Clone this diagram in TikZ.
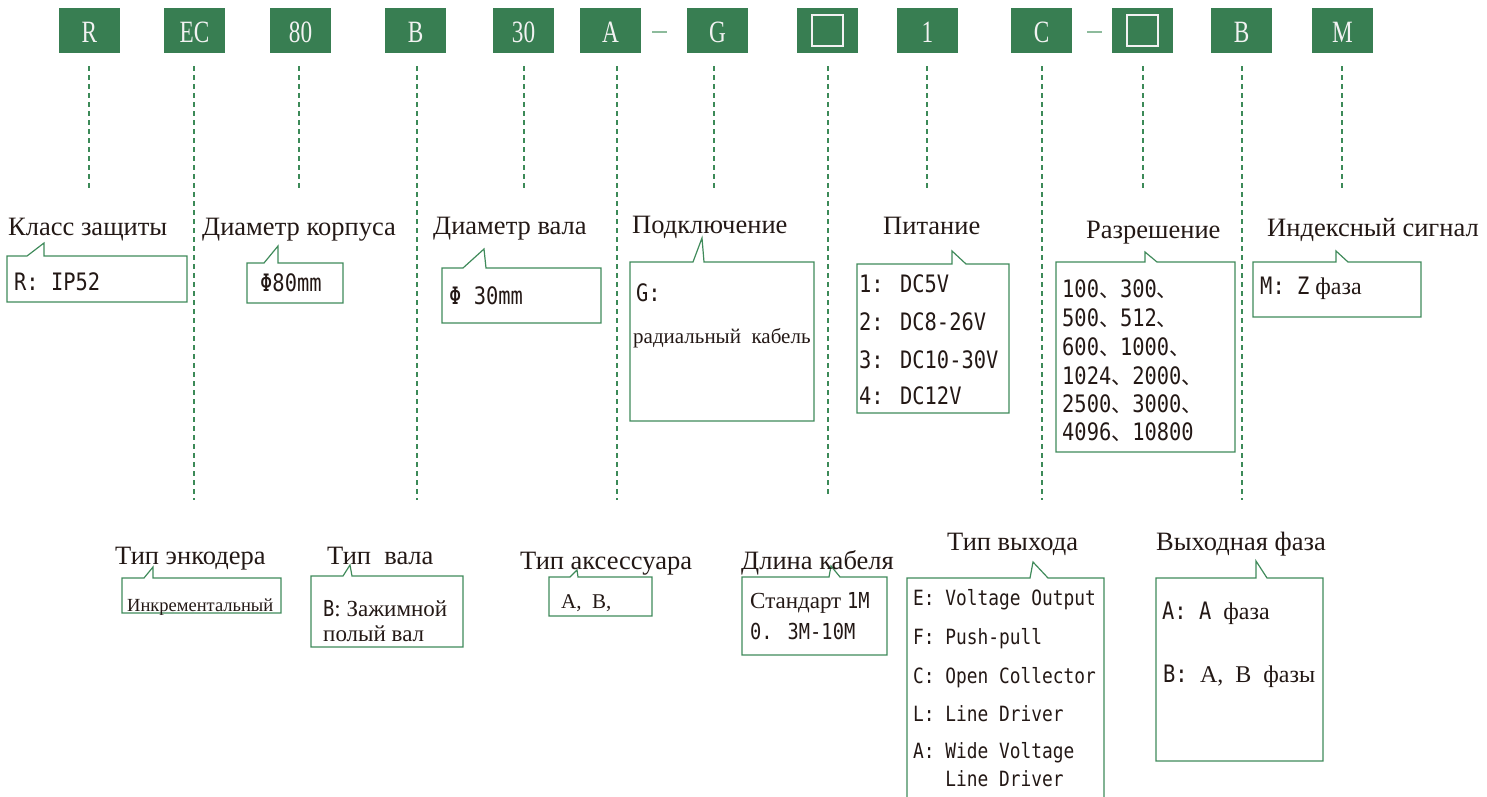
\documentclass[tikz,border=0pt]{standalone}
\usepackage{fontspec}
\setmainfont{Liberation Serif}
\newfontfamily\monof[FakeStretch=0.85]{DejaVu Sans Mono}
\newfontfamily\cjkf{Noto Sans CJK SC}
\newfontfamily\boxfont[FakeStretch=0.75]{Liberation Serif}
\usetikzlibrary{calc}
\definecolor{boxg}{HTML}{387E52}
\definecolor{lineg}{HTML}{3C8A58}
\definecolor{clg}{HTML}{3F8A5A}
\definecolor{sepg}{HTML}{8DBB9C}
\definecolor{txt}{HTML}{231815}
\definecolor{boxtxt}{HTML}{F2F2F2}
\newcommand{\fsz}[1]{\fontsize{#1}{#1}\selectfont}
\newcommand{\ideocomma}{{\cjkf\fsz{21}、}}
\newcommand{\callout}[8]{\draw[cl] (#1,#2) -- (#5,#2) -- (#6,#7) -- (#8,#2) -- (#3,#2) -- (#3,#4) -- (#1,#4) -- cycle;}
\tikzset{
  codebox/.style={fill=boxg, minimum width=61pt, minimum height=45pt, inner sep=0pt,
    text=boxtxt, font=\boxfont\fsz{31}, text height=24.5pt, text depth=0pt},
  dl/.style={draw=lineg, line width=1.1pt, dash pattern=on 5pt off 4pt},
  cl/.style={draw=clg, line width=1.2pt},
  sepdash/.style={draw=sepg, line width=2pt},
  sqw/.style={draw=boxtxt, line width=2pt},
  title/.style={anchor=west, inner sep=0pt, text height=15.9pt, text depth=0pt, font=\fsz{26.5}, text=txt},
  item/.style={anchor=west, inner sep=0pt, text height=14.4pt, text depth=0pt, font=\monof\fsz{24}, text=txt},
  itemsm/.style={anchor=west, inner sep=0pt, text height=12.6pt, text depth=0pt, font=\monof\fsz{21}, text=txt},
  ser/.style={anchor=west, inner sep=0pt, text height=12.6pt, text depth=0pt, font=\fsz{21}, text=txt},
}
\begin{document}
\begin{tikzpicture}[x=1pt,y=-1pt]
\useasboundingbox (0,0) rectangle (1487,796);
% code boxes
\node[codebox] (R) at (89.5,30.5) {R};
\node[codebox] (EC) at (194.5,30.5) {EC};
\node[codebox] (N80) at (300.5,30.5) {80};
\node[codebox] (B1) at (415.5,30.5) {B};
\node[codebox] (N30) at (523.5,30.5) {30};
\node[codebox] (A) at (610.5,30.5) {A};
\node[codebox] (G) at (717.5,30.5) {G};
\node[codebox] (Q1) at (827.5,30.5) {};
\node[codebox] (N1) at (927.5,30.5) {1};
\node[codebox] (C) at (1041.5,30.5) {C};
\node[codebox] (Q2) at (1142.5,30.5) {};
\node[codebox] (B2) at (1241.5,30.5) {B};
\node[codebox] (M) at (1342.5,30.5) {M};
\draw[sqw] ([shift={(-15.5,-16)}]Q1.center) rectangle ([shift={(15.5,15.5)}]Q1.center);
\draw[sqw] ([shift={(-15.5,-16)}]Q2.center) rectangle ([shift={(15.5,15.5)}]Q2.center);
\draw[sepdash] ($(A.east)+(11,1.5)$) -- ++(15,0);
\draw[sepdash] ($(C.east)+(15,1.5)$) -- ++(15,0);
% dashed guide lines
\foreach \n/\x/\e in {R/89/190, EC/194/500, N80/299/190, B1/417/500, N30/524/190, A/617/500, G/714/190, Q1/828/495, N1/927/190, C/1042/500, Q2/1143/190, B2/1242/500, M/1342/190}{
  \coordinate (s\n) at (\x,66);
  \coordinate (e\n) at (\x,\e);
  \draw[dl] (s\n) -- (e\n);
}
% callouts upper row
\callout{7}{256}{187}{302}{27}{44}{243}{44}
\callout{247}{263}{343}{303}{264}{278}{246}{278}
\callout{442}{268}{601}{323}{463}{484}{249}{486}
\callout{630}{262}{814}{421}{693}{702}{238}{704}
\callout{857}{264}{1009}{413}{952}{952}{251}{966}
\callout{1056}{262}{1235}{452}{1145}{1145}{252}{1157}
\callout{1253}{262}{1421}{317}{1336}{1336}{251}{1348}
% callouts lower row
\callout{122}{578}{281}{613}{144}{153}{567}{153}
\callout{311}{576}{463}{647}{343}{350}{565}{352}
\callout{549}{577}{652}{616}{570}{577}{570}{578}
\callout{742}{577}{887}{655}{829}{831}{566}{840}
\draw[cl] (907,797) -- (907,578) -- (1030,578) -- (1033,562) -- (1048,578) -- (1104,578) -- (1104,797);
\callout{1156}{578}{1323}{761}{1256}{1256}{561}{1267}
% titles
\node[title] (t1) at (8,228) {Класс защиты};
\node[title] (t2) at (202,228) {Диаметр корпуса};
\node[title] (t3) at (433,227) {Диаметр вала};
\node[title] (t4) at (632,226) {Подключение};
\node[title] (t5) at (883,227) {Питание};
\node[title] (t6) at (1086,231) {Разрешение};
\node[title] (t7) at (1267,229) {Индексный сигнал};
\node[title] (t8) at (115,557) {Тип энкодера};
\node[title] (t9) at (327,557) {Тип\ \ вала};
\node[title] (t10) at (520,562) {Тип аксессуара};
\node[title] (t11) at (741,562) {Длина кабеля};
\node[title] (t12) at (947,543) {Тип выхода};
\node[title] (t13) at (1156,543) {Выходная фаза};
% contents upper
\node[item] (c1) at (14,283) {R: IP52};
\node[item] (c2) at (260,284) {Φ80mm};
\node[item] (c3) at (449,297) {Φ 30mm};
\node[item] (c4a) at (636,294) {G:};
\node[ser] (c4b) at (633,337) {радиальный\ \ кабель};
\node[item] (c5a) at (859,285) {1: DC5V};
\node[item] (c5b) at (859,323) {2: DC8-26V};
\node[item] (c5c) at (859,361) {3: DC10-30V};
\node[item] (c5d) at (859,397) {4: DC12V};
\node[item] (c6a) at (1062,290) {100\ideocomma 300\ideocomma};
\node[item] (c6b) at (1062,319) {500\ideocomma 512\ideocomma};
\node[item] (c6c) at (1062,348) {600\ideocomma 1000\ideocomma};
\node[item] (c6d) at (1062,377) {1024\ideocomma 2000\ideocomma};
\node[item] (c6e) at (1062,405) {2500\ideocomma 3000\ideocomma};
\node[item] (c6f) at (1062,433) {4096\ideocomma 10800};
\node[item] (c7) at (1260,287) {M: Z{\rmfamily\fsz{24}\ фаза}};
% contents lower
\node[ser, font=\fsz{18.5}, text height=11pt] (c8) at (127,606) {Инкрементальный};
\node[ser, font=\fsz{23}] (c9a) at (323,610) {{\monof\fsz{22}B}: Зажимной};
\node[ser, font=\fsz{23}] (c9b) at (323,635) {полый вал};
\node[ser, font=\fsz{21}] (c10) at (561,602) {A,\ \ B,};
\node[ser, font=\fsz{23}] (c11a) at (750,602) {Стандарт {\monof\fsz{22}1M}};
\node[item, font=\monof\fsz{22}] (c11b) at (750,632) {0. 3M-10M};
\node[itemsm] (c12a) at (913,599) {E: Voltage Output};
\node[itemsm] (c12b) at (913,638) {F: Push-pull};
\node[itemsm] (c12c) at (913,677) {C: Open Collector};
\node[itemsm] (c12d) at (913,715) {L: Line Driver};
\node[itemsm] (c12e) at (913,752) {A: Wide Voltage};
\node[itemsm] (c12f) at (913,780) {\ \ \ Line Driver};
\node[item] (c13a) at (1162,612) {A: A{\rmfamily\fsz{24}\ \ фаза}};
\node[item] (c13b) at (1163,675) {B: {\rmfamily\fsz{24}A,\ \ B\ \ фазы}};
\end{tikzpicture}
\end{document}
